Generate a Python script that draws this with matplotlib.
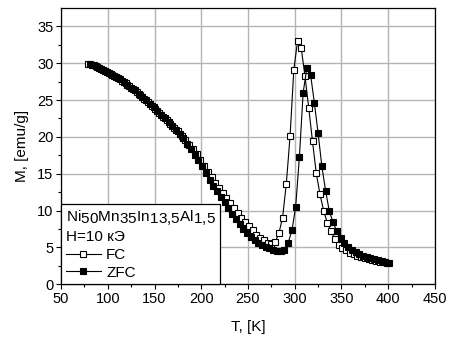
import matplotlib as mpl
mpl.use('Agg')
import matplotlib.pyplot as plt
import matplotlib._mathtext as mt
import numpy as np

plt.rcParams['font.family'] = ['Liberation Sans', 'DejaVu Sans']
plt.rcParams['mathtext.fontset'] = 'custom'
plt.rcParams['mathtext.rm'] = 'Liberation Sans'
mt.SHRINK_FACTOR = 1.0  # subscripts full size, only lowered, as in the original

# temperature grids, K
T_fc = np.arange(79, 400, 4)
T_zfc = np.arange(81, 402, 4)

# magnetization, emu/g
M_fc = [29.95, 29.8, 29.6, 29.4, 29.1, 28.85, 28.55, 28.25, 27.95, 27.6,
        27.3, 26.9, 26.5, 26.1, 25.65, 25.2, 24.75, 24.25, 23.75, 23.25,
        22.75, 22.25, 21.75, 21.25, 20.75, 20.15, 19.55, 18.95, 18.3, 17.65,
        16.9, 16.1, 15.3, 14.5, 13.75, 13.1, 12.4, 11.75, 11.05, 10.35,
        9.7, 9.05, 8.45, 7.85, 7.3, 6.75, 6.3, 5.95, 5.65, 5.45,
        5.7, 6.9, 9.05, 13.65, 20.1, 29.1, 33.0, 32.0, 28.2, 23.9,
        19.4, 15.1, 12.2, 9.95, 8.3, 7.2, 6.1, 5.35, 4.95, 4.6,
        4.3, 4.05, 3.85, 3.68, 3.52, 3.4, 3.28, 3.16, 3.05, 2.96, 2.88]

M_zfc = [29.9, 29.7, 29.5, 29.25, 29.0, 28.7, 28.4, 28.1, 27.8, 27.45,
         27.1, 26.7, 26.3, 25.85, 25.4, 24.95, 24.5, 24.0, 23.5, 23.0,
         22.5, 22.0, 21.5, 21.0, 20.4, 19.8, 19.1, 18.4, 17.6, 16.8,
         16.0, 15.1, 14.2, 13.4, 12.6, 11.85, 11.1, 10.3, 9.55, 8.85,
         8.2, 7.55, 6.95, 6.45, 6.0, 5.65, 5.35, 5.1, 4.9, 4.7,
         4.55, 4.45, 4.6, 5.65, 7.3, 10.5, 17.3, 26.0, 29.4, 28.4,
         24.6, 20.5, 16.0, 12.7, 9.9, 8.4, 7.2, 6.3, 5.6, 5.1,
         4.7, 4.4, 4.1, 3.9, 3.7, 3.55, 3.4, 3.25, 3.1, 3.0, 2.9]

fig = plt.figure(figsize=(4.5, 3.45), dpi=100)
ax = fig.add_axes([0.1356, 0.176, 0.831, 0.801])

fc, = ax.plot(T_fc, M_fc, '-s', color='black', lw=0.8, ms=4.6,
              mfc='white', mec='black', mew=0.8, label='FC')
zfc, = ax.plot(T_zfc, M_zfc, '-s', color='black', lw=0.8, ms=4.6,
               mfc='black', mec='black', mew=0.8, label='ZFC')

ax.set_xlim(50, 450)
ax.set_ylim(0, 37.5)
ax.set_xticks(np.arange(50, 451, 50))
ax.set_yticks(np.arange(0, 36, 5))
ax.set_xticks(np.arange(75, 450, 50), minor=True)
ax.set_yticks(np.arange(2.5, 37, 5), minor=True)
ax.grid(True, which='major', color='#b4b4b4', lw=1.0)
ax.set_axisbelow(True)
ax.tick_params(axis='both', which='major', direction='out', length=3.5,
               width=0.8, labelsize=10.5, pad=2)
ax.tick_params(axis='both', which='minor', direction='out', length=2,
               width=0.8)
for s in ax.spines.values():
    s.set_linewidth(0.9)

ax.set_xlabel('T, [K]', fontsize=11, labelpad=10)
ax.set_ylabel('M, [emu/g]', fontsize=11, labelpad=6)

formula = r'$\mathregular{Ni_{50}Mn_{35}In_{13{,}5}Al_{1{,}5}}$'
leg = ax.legend(handles=[fc, zfc], loc='lower left', borderaxespad=0,
                title=formula + '\nH=10 кЭ',
                alignment='left', fontsize=11, title_fontsize=11,
                fancybox=False, framealpha=1, edgecolor='black',
                handlelength=2.3, handletextpad=0.35, labelspacing=0.25,
                borderpad=0.3, markerscale=0.8)
leg.get_frame().set_linewidth(0.9)

fig.savefig('out.png', dpi=100)
